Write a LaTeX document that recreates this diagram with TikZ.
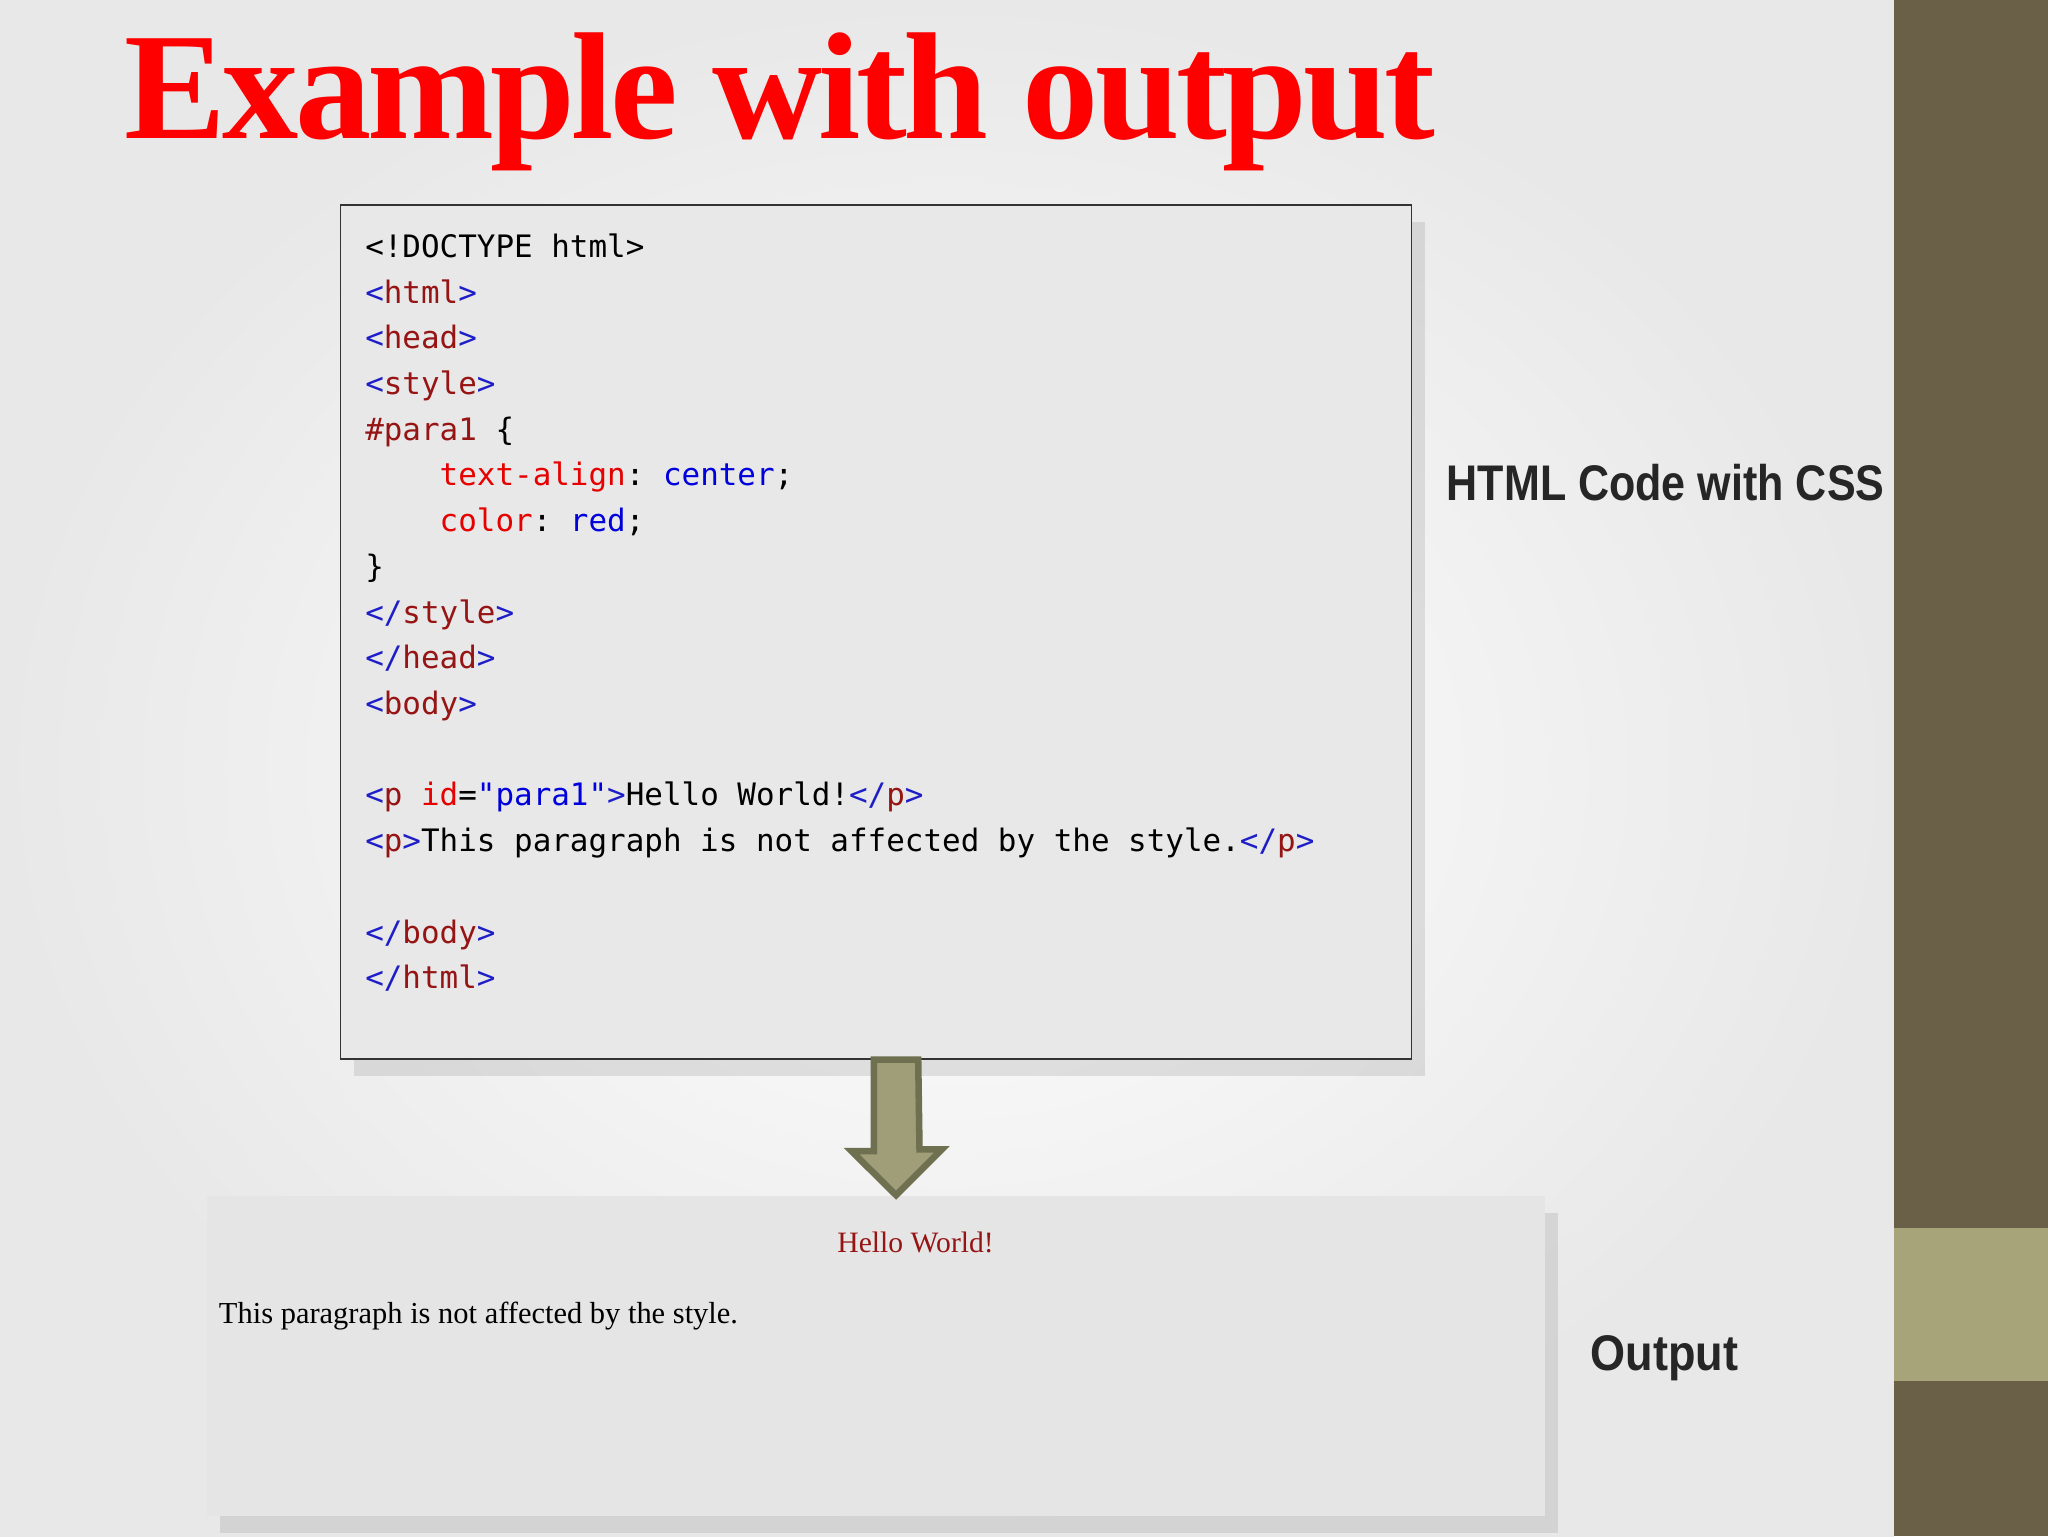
\documentclass[tikz,border=0pt]{standalone}
\usepackage{fontspec}
\setmainfont{Liberation Serif}
\setsansfont{Liberation Sans}
\setmonofont{DejaVu Sans Mono}
\usetikzlibrary{shadows}
\definecolor{barA}{RGB}{106,95,71}
\definecolor{barB}{RGB}{168,164,122}
\definecolor{tb}{RGB}{30,30,200}
\definecolor{tn}{RGB}{150,20,20}
\definecolor{pr}{RGB}{230,0,0}
\definecolor{vl}{RGB}{0,0,220}
\definecolor{arrf}{RGB}{160,158,120}
\definecolor{arrd}{RGB}{110,112,80}
\newcommand{\TG}[1]{\textcolor{tb}{<}\textcolor{tn}{#1}\textcolor{tb}{>}}
\newcommand{\CT}[1]{\textcolor{tb}{</}\textcolor{tn}{#1}\textcolor{tb}{>}}
\tikzset{codeln/.style={anchor=base west,inner sep=0,font=\ttfamily\fontsize{7.1}{8}\selectfont},
panel/.style={draw=#1,fill=gray!18,drop shadow={shadow xshift=3pt,shadow yshift=-4pt,opacity=0.2}}}
\begin{document}
\begin{tikzpicture}[x=0.3pt,y=-0.3pt]
\useasboundingbox (0,0) rectangle (1568,1176);
\shade[inner color=white,outer color=gray!18] (0,0) rectangle (1450,1176);
\fill[barA] (1450,0) rectangle (1568,1176);
\fill[barB] (1450,940) rectangle (1568,1057);
\node[anchor=base west,inner sep=0,text=red,font=\bfseries\fontsize{35}{40}\selectfont] (title) at (95,106) {\addfontfeatures{LetterSpace=-2.5}Example with output};
\node[panel=black!80,minimum width=820*0.3pt,minimum height=654*0.3pt,anchor=north west,inner sep=0] (code) at (260,156) {};
\node[panel=none,fill=gray!20,minimum width=1024*0.3pt,minimum height=245*0.3pt,anchor=north west,inner sep=0] (out) at (158,915) {};
\foreach \y/\t in {189/{<!DOCTYPE html>},224/{\TG{html}},259/{\TG{head}},294/{\TG{style}},329/{\textcolor{tn}{\#para1} \{},364/{\ \ \ \ \textcolor{pr}{text-align}: \textcolor{vl}{center};},399/{\ \ \ \ \textcolor{pr}{color}: \textcolor{vl}{red};},434/{\}},469/{\CT{style}},504/{\CT{head}},539/{\TG{body}},609/{\textcolor{tb}{<}\textcolor{tn}{p} \textcolor{pr}{id}=\textcolor{vl}{"para1"}\textcolor{tb}{>}Hello World!\CT{p}},644/{\TG{p}This paragraph is not affected by the style.\CT{p}},714/{\CT{body}},749/{\CT{html}}}
  \node[codeln] at (279,\y+8) {\t};
\coordinate (a1) at (code.south -| 686,0);
\draw[arrd,fill=arrf,line width=1.5pt,line join=miter] ([xshift=-17*0.3pt]a1) -- ++(0,70) -- ++(-17,0) -- (686,915) -- ++(35,-35) -- ++(-17,0) -- ([xshift=17*0.3pt]a1) -- cycle;
\node[anchor=base,inner sep=0,text=tn,font=\fontsize{6.8}{8}\selectfont] (hw) at (701,959) {Hello World!};
\node[anchor=base west,inner sep=0,font=\fontsize{7}{8}\selectfont] (np) at (167,1013) {This paragraph is not affected by the style.};
\node[anchor=base west,inner sep=0,text=black!85,font=\sffamily\bfseries\fontsize{11.5}{13}\selectfont] (l1) at (1107,383) {\scalebox{0.86}[1]{HTML Code with CSS}};
\node[anchor=base west,inner sep=0,text=black!85,font=\sffamily\bfseries\fontsize{11.5}{13}\selectfont] (l2) at (1217,1049) {\scalebox{0.9}[1]{Output}};
\end{tikzpicture}
\end{document}
